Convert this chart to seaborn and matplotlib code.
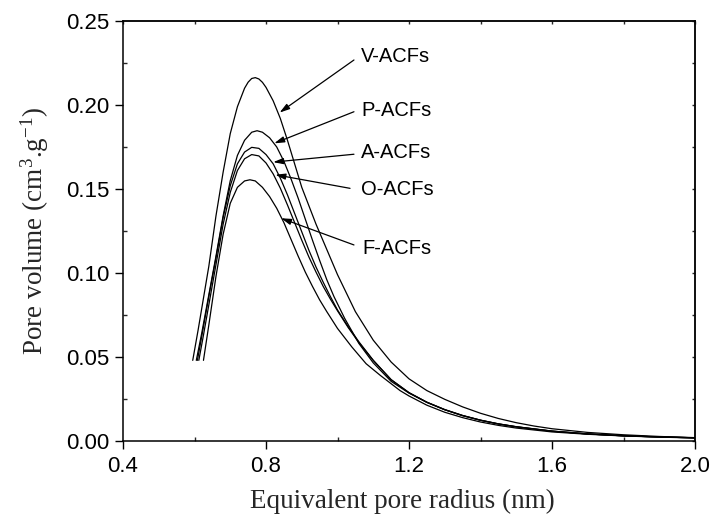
import matplotlib
matplotlib.use("Agg")
import matplotlib.pyplot as plt
import seaborn as sns
import pandas as pd

# ---- data ----
V_x = [0.595, 0.61, 0.625, 0.64, 0.66, 0.68, 0.70, 0.72, 0.74, 0.75, 0.76, 0.77, 0.78, 0.79, 0.80, 0.82, 0.84, 0.86, 0.88, 0.90, 0.92, 0.94, 0.96, 0.98, 1.00, 1.05, 1.10, 1.15, 1.20, 1.25, 1.30, 1.35, 1.40, 1.45, 1.50, 1.55, 1.60, 1.70, 1.80, 1.90, 2.00]
V_y = [0.048, 0.066, 0.085, 0.104, 0.134, 0.160, 0.183, 0.199, 0.210, 0.2136, 0.2158, 0.2163, 0.2155, 0.2135, 0.2105, 0.2025, 0.192, 0.179, 0.165, 0.151, 0.140, 0.129, 0.119, 0.109, 0.099, 0.077, 0.060, 0.047, 0.037, 0.030, 0.0248, 0.0203, 0.0165, 0.0134, 0.0109, 0.0089, 0.0073, 0.0051, 0.0037, 0.0027, 0.0020]

P_x = [0.605, 0.62, 0.64, 0.66, 0.68, 0.70, 0.72, 0.74, 0.76, 0.775, 0.79, 0.81, 0.83, 0.85, 0.87, 0.89, 0.91, 0.93, 0.95, 0.97, 0.99, 1.02, 1.06, 1.10, 1.15, 1.20, 1.25, 1.30, 1.35, 1.40, 1.45, 1.50, 1.60, 1.70, 1.80, 1.90, 2.00]
P_y = [0.048, 0.064, 0.087, 0.110, 0.134, 0.155, 0.170, 0.179, 0.1838, 0.1847, 0.1838, 0.1805, 0.1750, 0.1665, 0.156, 0.1445, 0.132, 0.1195, 0.1075, 0.096, 0.086, 0.073, 0.058, 0.0465, 0.0355, 0.0285, 0.0230, 0.0186, 0.0151, 0.0124, 0.0102, 0.0085, 0.0059, 0.0042, 0.0031, 0.0024, 0.0019]

A_x = [0.608, 0.62, 0.64, 0.66, 0.68, 0.70, 0.72, 0.74, 0.76, 0.78, 0.80, 0.82, 0.84, 0.86, 0.88, 0.90, 0.92, 0.94, 0.96, 0.98, 1.00, 1.03, 1.06, 1.10, 1.15, 1.20, 1.25, 1.30, 1.35, 1.40, 1.45, 1.50, 1.60, 1.70, 1.80, 1.90, 2.00]
A_y = [0.048, 0.062, 0.086, 0.109, 0.133, 0.152, 0.165, 0.1720, 0.1748, 0.1742, 0.1705, 0.1650, 0.1565, 0.1465, 0.1355, 0.1245, 0.1135, 0.1035, 0.0945, 0.086, 0.078, 0.068, 0.059, 0.048, 0.0365, 0.0288, 0.0231, 0.0187, 0.0152, 0.0124, 0.0102, 0.0085, 0.0059, 0.0042, 0.0031, 0.0024, 0.0019]

O_x = [0.612, 0.625, 0.64, 0.66, 0.68, 0.70, 0.72, 0.74, 0.76, 0.78, 0.80, 0.82, 0.84, 0.86, 0.88, 0.90, 0.92, 0.94, 0.96, 0.98, 1.00, 1.03, 1.06, 1.10, 1.15, 1.20, 1.25, 1.30, 1.35, 1.40, 1.45, 1.50, 1.60, 1.70, 1.80, 1.90, 2.00]
O_y = [0.048, 0.063, 0.081, 0.105, 0.129, 0.148, 0.161, 0.1680, 0.1705, 0.1697, 0.1655, 0.1590, 0.1505, 0.1405, 0.1300, 0.1195, 0.1095, 0.1005, 0.0920, 0.0845, 0.0775, 0.0675, 0.0585, 0.0480, 0.0365, 0.0287, 0.0230, 0.0186, 0.0151, 0.0123, 0.0101, 0.0084, 0.0058, 0.0042, 0.0031, 0.0024, 0.0019]

F_x = [0.625, 0.64, 0.66, 0.68, 0.70, 0.72, 0.74, 0.755, 0.77, 0.79, 0.81, 0.83, 0.85, 0.87, 0.89, 0.91, 0.93, 0.95, 0.97, 1.00, 1.04, 1.08, 1.12, 1.175, 1.20, 1.25, 1.30, 1.35, 1.40, 1.45, 1.50, 1.60, 1.70, 1.80, 1.90, 2.00]
F_y = [0.048, 0.069, 0.098, 0.123, 0.1415, 0.1510, 0.1548, 0.1555, 0.1548, 0.151, 0.1455, 0.1385, 0.130, 0.120, 0.110, 0.1005, 0.092, 0.084, 0.077, 0.067, 0.056, 0.046, 0.039, 0.0300, 0.0268, 0.0213, 0.0171, 0.0139, 0.0113, 0.0093, 0.0077, 0.0054, 0.0040, 0.0030, 0.0023, 0.0018]

series_names = ["V-ACFs", "P-ACFs", "A-ACFs", "O-ACFs", "F-ACFs"]
series_x = [V_x, P_x, A_x, O_x, F_x]
series_y = [V_y, P_y, A_y, O_y, F_y]

# annotation: text position and arrow tail/head (data coords)
label_pos = [(1.066, 0.2288), (1.066, 0.1970), (1.066, 0.1716), (1.066, 0.1498), (1.070, 0.1147)]
arrow_tail = [(1.046, 0.2268), (1.046, 0.1960), (1.046, 0.1707), (1.035, 0.1504), (1.046, 0.1167)]
arrow_head = [(0.838, 0.1955), (0.823, 0.1772), (0.820, 0.1660), (0.826, 0.1585), (0.842, 0.1326)]

x_ticks = [0.4, 0.8, 1.2, 1.6, 2.0]
y_ticks = [0.00, 0.05, 0.10, 0.15, 0.20, 0.25]

rows = []
for name, xs, ys in zip(series_names, series_x, series_y):
    for xv, yv in zip(xs, ys):
        rows.append({"series": name, "x": xv, "y": yv})
df = pd.DataFrame(rows)

sns.set_style("ticks")
plt.rcParams["font.family"] = ["Liberation Sans", "DejaVu Sans"]
plt.rcParams["mathtext.fontset"] = "custom"
plt.rcParams["mathtext.rm"] = "Liberation Serif"
plt.rcParams["mathtext.it"] = "Liberation Serif:italic"

fig = plt.figure(figsize=(7.14, 5.19), dpi=100)
ax = fig.add_axes([0.1723, 0.1503, 0.8011, 0.8092])

sns.lineplot(data=df, x="x", y="y", hue="series", units="series", estimator=None,
             sort=False, palette=["black"] * 5, legend=False, linewidth=0.9, ax=ax)

ax.set_xlim(0.4, 2.0)
ax.set_ylim(0.0, 0.25)
ax.set_xticks(x_ticks)
ax.set_xticklabels(["0.4", "0.8", "1.2", "1.6", "2.0"])
ax.set_yticks(y_ticks)
ax.set_yticklabels(["0.00", "0.05", "0.10", "0.15", "0.20", "0.25"])
ax.set_xticks([0.6, 1.0, 1.4, 1.8], minor=True)
ax.set_yticks([0.025, 0.075, 0.125, 0.175, 0.225], minor=True)

for sp in ax.spines.values():
    sp.set_visible(True)
    sp.set_linewidth(1.1)
    sp.set_color("black")

ax.tick_params(which="major", direction="out", length=6, width=1.0, labelsize=16,
               colors="black", top=False, right=False)
ax.tick_params(axis="x", which="major", pad=5)
ax.tick_params(axis="y", which="major", pad=3.5)
ax.tick_params(which="minor", direction="in", length=3, width=1.0, top=False, right=False)

secx = ax.secondary_xaxis("top")
secx.set_xticks([0.4, 0.6, 0.8, 1.0, 1.2, 1.4, 1.6, 1.8, 2.0])
secx.tick_params(direction="in", length=2.5, width=1.0, labeltop=False)
secx.set_xticklabels([])
secx.spines["top"].set_linewidth(1.1)

secy = ax.secondary_yaxis("right")
secy.set_yticks([0.0, 0.025, 0.05, 0.075, 0.10, 0.125, 0.15, 0.175, 0.20, 0.225, 0.25])
secy.tick_params(direction="in", length=2.5, width=1.0, labelright=False)
secy.set_yticklabels([])
secy.spines["right"].set_linewidth(1.1)

ax.set_xlabel("Equivalent pore radius (nm)", fontsize=19.5, family="Liberation Serif", labelpad=8)
ax.xaxis.label.set_x(0.488)
ax.set_ylabel(r"Pore volume (cm$^{3}$.g$^{-1}$)", fontsize=19.5, family="Liberation Serif", labelpad=11)

for name, lp, tail, head in zip(series_names, label_pos, arrow_tail, arrow_head):
    ax.annotate("", xy=head, xytext=tail,
                arrowprops=dict(arrowstyle="-|>,head_length=0.6,head_width=0.18",
                                color="black", lw=0.9, shrinkA=0, shrinkB=0,
                                mutation_scale=10))
    ax.text(lp[0], lp[1], name, fontsize=14.5, ha="left", va="center", color="black")

fig.savefig("out.png", dpi=100)
